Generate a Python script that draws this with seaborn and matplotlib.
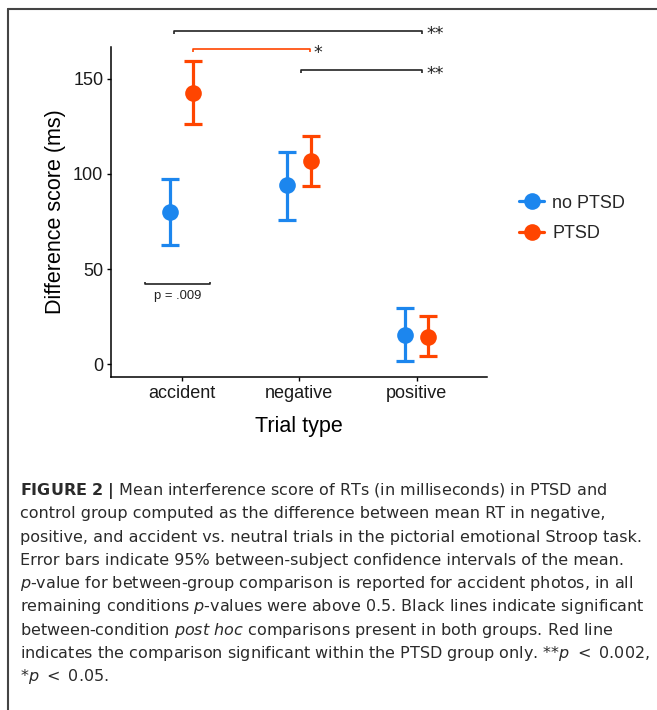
import matplotlib
matplotlib.use("Agg")
import matplotlib.pyplot as plt
from matplotlib.lines import Line2D
import seaborn as sns
import pandas as pd

# values (ms)
trial_types = ["accident", "negative", "positive"]
groups = ["no PTSD", "PTSD"]
mean_no_ptsd = [80.0, 94.0, 15.5]
low_no_ptsd = [62.6, 75.8, 1.4]
high_no_ptsd = [97.2, 111.6, 29.5]
mean_ptsd = [142.5, 106.7, 14.2]
low_ptsd = [126.3, 93.8, 4.0]
high_ptsd = [159.3, 120.0, 25.3]

blue = "#1c86ee"
red = "#ff4500"
palette = {"no PTSD": blue, "PTSD": red}

df = pd.DataFrame({
    "trial": trial_types * 2,
    "group": [groups[0]] * 3 + [groups[1]] * 3,
    "score": mean_no_ptsd + mean_ptsd,
    "low": low_no_ptsd + low_ptsd,
    "high": high_no_ptsd + high_ptsd,
})

sns.set_style("ticks")
plt.rcParams["font.family"] = ["Liberation Sans", "DejaVu Sans"]
plt.rcParams["mathtext.fontset"] = "custom"
plt.rcParams["mathtext.rm"] = "DejaVu Sans"
plt.rcParams["mathtext.it"] = "DejaVu Sans:italic"
plt.rcParams["mathtext.bf"] = "DejaVu Sans:bold"

fig = plt.figure(figsize=(6.57, 7.10), dpi=100)
ax = fig.add_axes([111 / 657, 1 - 377 / 710, 376 / 657, 330 / 710])

dodge = 0.2
sns.pointplot(data=df, x="trial", y="score", hue="group", order=trial_types,
              hue_order=groups, palette=palette, dodge=dodge, errorbar=None,
              linestyle="none", markers="o", markersize=12, markeredgewidth=0,
              legend=False, ax=ax, zorder=3)

# confidence intervals
for gi, g in enumerate(groups):
    sub = df[df.group == g]
    xs = [trial_types.index(t) - dodge / 2 + gi * dodge for t in sub.trial]
    err = [sub.score - sub.low, sub.high - sub.score]
    ax.errorbar(xs, sub.score, yerr=err, fmt="none", ecolor=palette[g],
                elinewidth=2.3, capsize=6.5, capthick=2.3, zorder=2)

ax.set_xlim(-0.6, 2.6)
ax.set_ylim(-6.8, 166.8)
ax.set_yticks([0, 50, 100, 150])
sns.despine(ax=ax)
for s in ["left", "bottom"]:
    ax.spines[s].set_linewidth(1.1)
    ax.spines[s].set_color("black")
ax.tick_params(length=3, width=1, color="black", labelsize=13,
               labelcolor="#1a1a1a", pad=2.5)
ax.set_xlabel("Trial type", fontsize=15.5, labelpad=10, color="black")
ax.set_ylabel("Difference score (ms)", fontsize=15.5, labelpad=5, color="black")

# significance brackets (annotations): x from, x to, y, label, colour
brackets = [(-0.06, 2.05, 175.4, "**", "#222222"),
            (0.10, 1.09, 165.8, "*", red),
            (1.02, 2.05, 154.7, "**", "#222222")]
tick = 1.5
for x0, x1, y, lab, col in brackets:
    ax.plot([x0, x0, x1, x1], [y - tick, y, y, y - tick], color=col, lw=1.2,
            clip_on=False, solid_capstyle="butt")
    ax.text(x1 + 0.035, y - 2.0, lab, color="#222222", fontsize=12.5,
            family="DejaVu Sans", ha="left", va="center", clip_on=False)

# between-group comparison for accident
ax.plot([-0.31, -0.31, 0.246, 0.246], [43.3, 41.9, 41.9, 43.3], color="#222222",
        lw=1.2, solid_capstyle="butt")
ax.text(-0.035, 36.0, "p = .009", fontsize=9.4, ha="center", va="center",
        color="#222222")

handles = [Line2D([], [], color=palette[g], marker="o", markersize=12,
                  markeredgewidth=0, lw=2.3) for g in groups]
fig.legend(handles, groups, loc="center left",
           bbox_to_anchor=(519 / 657, 1 - 218.5 / 710), frameon=False,
           fontsize=13, handlelength=1.4, handletextpad=0.45,
           labelspacing=0.75, borderpad=0, borderaxespad=0)

caption = [
    r"$\mathbf{FIGURE\ 2\ |}$ Mean interference score of RTs (in milliseconds) in PTSD and",
    "control group computed as the difference between mean RT in negative,",
    "positive, and accident vs. neutral trials in the pictorial emotional Stroop task.",
    "Error bars indicate 95% between-subject confidence intervals of the mean.",
    r"$\mathit{p}$-value for between-group comparison is reported for accident photos, in all",
    r"remaining conditions $\mathit{p}$-values were above 0.5. Black lines indicate significant",
    r"between-condition $\mathit{post\ hoc}$ comparisons present in both groups. Red line",
    r"indicates the comparison significant within the PTSD group only. **$\mathit{p}$ $<$ 0.002,",
    r"*$\mathit{p}$ $<$ 0.05.",
]
for i, line in enumerate(caption):
    fig.text(20 / 657, 1 - (495 + i * 23.3) / 710, line, fontsize=11.5,
             family="DejaVu Sans", color="#2b2b2b", ha="left", va="baseline")

# frame of the figure panel
fig.add_artist(Line2D([8 / 657, 1.0], [1 - 8.5 / 710] * 2, color="#444444", lw=1.5))
fig.add_artist(Line2D([8 / 657] * 2, [1 - 8.5 / 710, 0.0], color="#444444", lw=1.5))

fig.savefig("out.png", dpi=100)
